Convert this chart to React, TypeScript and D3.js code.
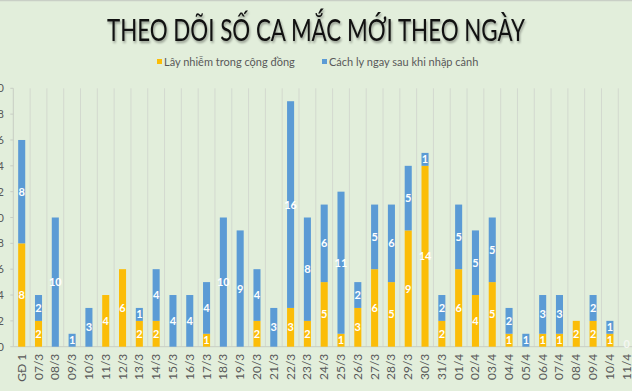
import React, { useEffect, useRef } from "react";
import * as d3 from "d3";

const days = [
  "GĐ 1", "07/3", "08/3", "09/3", "10/3", "11/3", "12/3", "13/3", "14/3", "15/3",
  "16/3", "17/3", "18/3", "19/3", "20/3", "21/3", "22/3", "23/3", "24/3", "25/3",
  "26/3", "27/3", "28/3", "29/3", "30/3", "31/3", "01/4", "02/4", "03/4", "04/4",
  "05/4", "06/4", "07/4", "08/4", "09/4", "10/4", "11/4",
];
// Lây nhiễm trong cộng đồng
const community = [8, 2, 0, 0, 0, 4, 6, 2, 2, 0, 0, 1, 0, 0, 2, 0, 3, 2, 5, 1, 3, 6, 5, 9, 14, 2, 6, 4, 5, 1, 0, 1, 1, 2, 2, 1, 0];
// Cách ly ngay sau khi nhập cảnh
const imported = [8, 2, 10, 1, 3, 0, 0, 1, 4, 4, 4, 4, 10, 9, 4, 3, 16, 8, 6, 11, 2, 5, 6, 5, 1, 2, 5, 5, 5, 2, 1, 3, 3, 0, 2, 1, 0];
const yTicks = [0, 2, 4, 6, 8, 10, 12, 14, 16, 18, 20];

const seriesNames = ["Lây nhiễm trong cộng đồng", "Cách ly ngay sau khi nhập cảnh"];
const colors = ["#fbbd08", "#5b9bd5"];

export default function App() {
  const ref = useRef<SVGSVGElement>(null);

  useEffect(() => {
    const W = 632, H = 391;
    const svg = d3.select(ref.current);
    svg.selectAll("*").remove();

    const left = 13.3, right = 635.1, top = 88.3, bottom = 346.7;
    const font = "Lato, 'Open Sans', sans-serif";

    svg.append("rect").attr("width", W).attr("height", H).attr("fill", "#e2eedb");
    svg.append("line").attr("x1", 0).attr("x2", W).attr("y1", 0.5).attr("y2", 0.5)
      .attr("stroke", "#c9cfc6").attr("stroke-width", 1.5);

    const x = d3.scaleBand().domain(days).range([left, right]).paddingInner(0.58).paddingOuter(0.29);
    const xGrid = d3.scaleBand().domain(days).range([left, right]);
    const y = d3.scaleLinear().domain([0, 20]).range([bottom, top]);

    // title
    svg.append("text")
      .attr("x", 107).attr("y", 41)
      .attr("font-family", font)
      .attr("font-size", 31)
      .attr("textLength", 418)
      .attr("lengthAdjust", "spacingAndGlyphs")
      .attr("fill", "#111")
      .style("filter", "drop-shadow(1px 2px 1px rgba(0,0,0,0.35))")
      .text("THEO DÕI SỐ CA MẮC MỚI THEO NGÀY");

    // legend
    const legendX = [157, 322];
    seriesNames.forEach((name, i) => {
      svg.append("rect").attr("x", legendX[i]).attr("y", 59).attr("width", 5).attr("height", 5).attr("fill", colors[i]);
      svg.append("text").attr("x", legendX[i] + 7).attr("y", 65.5)
        .attr("font-family", font).attr("font-size", 11)
        .attr("fill", "#595959").text(name);
    });

    const g = svg.append("g");

    // vertical gridlines at band edges
    g.selectAll(".grid").data(days.slice(1)).join("line")
      .attr("x1", d => xGrid(d)!).attr("x2", d => xGrid(d)!)
      .attr("y1", top).attr("y2", bottom)
      .attr("stroke", "#d3d9cf").attr("stroke-width", 1);

    // y axis
    g.append("line").attr("x1", left).attr("x2", left).attr("y1", top).attr("y2", bottom)
      .attr("stroke", "#c8cec4");
    g.selectAll(".ytick").data(yTicks).join("line")
      .attr("x1", left - 3).attr("x2", left).attr("y1", d => y(d)).attr("y2", d => y(d))
      .attr("stroke", "#c8cec4");
    g.selectAll(".ylab").data(yTicks).join("text")
      .attr("x", 4).attr("y", d => y(d) + 4)
      .attr("text-anchor", "end")
      .attr("font-family", font).attr("font-size", 11)
      .attr("fill", "#595959").text(d => d);

    // baseline
    g.append("line").attr("x1", left).attr("x2", right).attr("y1", bottom).attr("y2", bottom)
      .attr("stroke", "#c8cec4");

    const rows = days.map((d, i) => ({ day: d, community: community[i], imported: imported[i] }));
    const stack = d3.stack<any>().keys(["community", "imported"])(rows);

    stack.forEach((layer, si) => {
      g.selectAll(".bar" + si).data(layer).join("rect")
        .attr("x", d => x(d.data.day)!)
        .attr("width", x.bandwidth())
        .attr("y", d => y(d[1]))
        .attr("height", d => y(d[0]) - y(d[1]))
        .attr("fill", colors[si]);

      g.selectAll(".lab" + si).data(layer.filter(d => d[1] - d[0] > 0)).join("text")
        .attr("x", d => x(d.data.day)! + x.bandwidth() / 2)
        .attr("y", d => y((d[0] + d[1]) / 2) + 4)
        .attr("text-anchor", "middle")
        .attr("font-family", font).attr("font-size", 11)
        .attr("font-weight", "bold")
        .attr("fill", "#ffffff")
        .text(d => d[1] - d[0]);
    });

    // zero label
    rows.filter(r => r.community + r.imported === 0).forEach(r => {
      g.append("text")
        .attr("x", x(r.day)! + x.bandwidth() / 2).attr("y", bottom + 1)
        .attr("text-anchor", "middle")
        .attr("font-family", font).attr("font-size", 11)
        .attr("font-weight", "bold").attr("fill", "#f4f7f2").text("0");
    });

    // x labels
    g.selectAll(".xlab").data(days).join("text")
      .attr("transform", d => `translate(${xGrid(d)! + xGrid.bandwidth() / 2 + 4},${bottom + 7}) rotate(-90)`)
      .attr("text-anchor", "end")
      .attr("font-family", font).attr("font-size", 12)
      .attr("fill", "#595959").text(d => d);
  }, []);

  return (
    <svg ref={ref} width={632} height={391} style={{ position: "absolute", left: 0, top: 0 }} />
  );
}
